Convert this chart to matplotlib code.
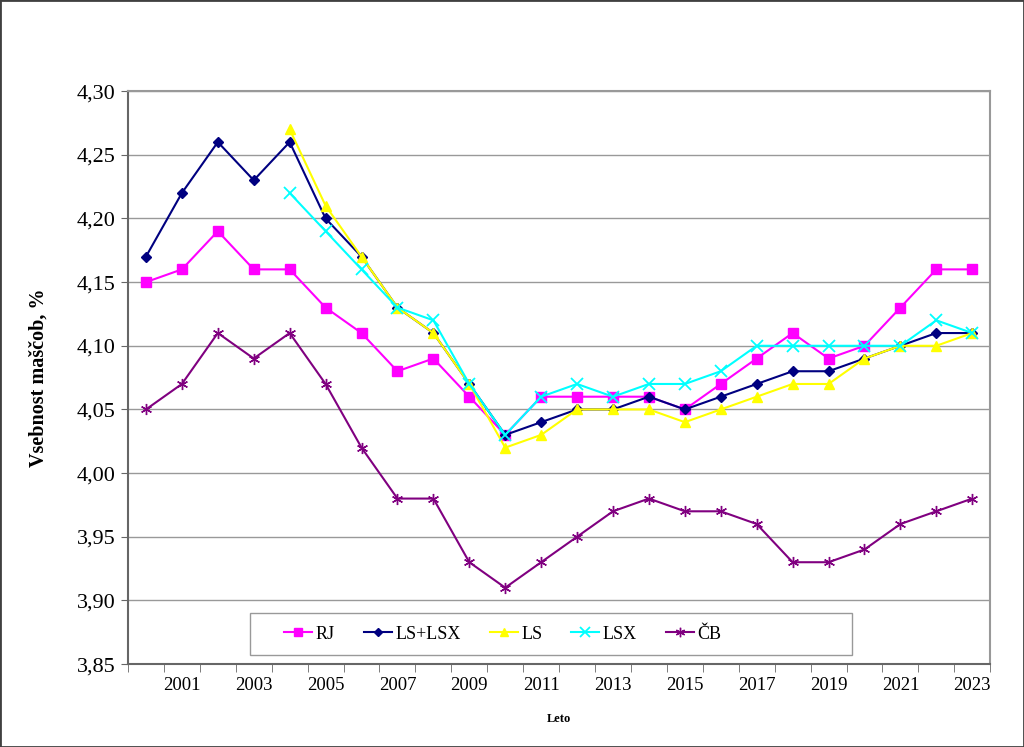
import matplotlib.pyplot as plt
import numpy as np
from matplotlib.patches import Rectangle
from matplotlib.ticker import FixedLocator, FuncFormatter

plt.rcParams['font.family'] = ['Liberation Serif', 'DejaVu Serif']

years = list(range(2000, 2024))
rj = [4.15, 4.16, 4.19, 4.16, 4.16, 4.13, 4.11, 4.08, 4.09, 4.06, 4.03, 4.06,
      4.06, 4.06, 4.06, 4.05, 4.07, 4.09, 4.11, 4.09, 4.10, 4.13, 4.16, 4.16]
ls_lsx = [4.17, 4.22, 4.26, 4.23, 4.26, 4.20, 4.17, 4.13, 4.11, 4.07, 4.03, 4.04,
          4.05, 4.05, 4.06, 4.05, 4.06, 4.07, 4.08, 4.08, 4.09, 4.10, 4.11, 4.11]
ls = [None] * 4 + [4.27, 4.21, 4.17, 4.13, 4.11, 4.07, 4.02, 4.03,
                   4.05, 4.05, 4.05, 4.04, 4.05, 4.06, 4.07, 4.07, 4.09, 4.10, 4.10, 4.11]
lsx = [None] * 4 + [4.22, 4.19, 4.16, 4.13, 4.12, 4.07, 4.03, 4.06,
                    4.07, 4.06, 4.07, 4.07, 4.08, 4.10, 4.10, 4.10, 4.10, 4.10, 4.12, 4.11]
cb = [4.05, 4.07, 4.11, 4.09, 4.11, 4.07, 4.02, 3.98, 3.98, 3.93, 3.91, 3.93,
      3.95, 3.97, 3.98, 3.97, 3.97, 3.96, 3.93, 3.93, 3.94, 3.96, 3.97, 3.98]

def arr(v):
    return np.array([np.nan if x is None else x for x in v], dtype=float)

fig = plt.figure(figsize=(10.24, 7.47), dpi=100)
fig.patches.append(Rectangle((0, 0), 1, 1, transform=fig.transFigure,
                             fill=False, edgecolor='#404040', linewidth=2))
ax = fig.add_axes([0.125, 0.111, 0.842, 0.767])

x = np.arange(len(years))
ax.plot(x, arr(rj), color='#FF00FF', marker='s', markersize=7, linewidth=1.5, label='RJ')
ax.plot(x, arr(ls_lsx), color='#000080', marker='D', markersize=5, linewidth=1.5, label='LS+LSX')
ax.plot(x, arr(ls), color='#FFFF00', marker='^', markersize=7, linewidth=1.5, label='LS')
ax.plot(x, arr(lsx), color='#00FFFF', marker='x', markersize=8, markeredgewidth=1.3,
        linewidth=1.5, label='LSX')
ax.plot(x, arr(cb), color='#800080', marker=(6, 2, 0), markersize=8, markeredgewidth=1.0,
        linewidth=1.5, label='ČB')

ax.set_xlim(-0.5, len(years) - 0.5)
ax.set_ylim(3.85, 4.30)
ax.set_yticks(np.arange(3.85, 4.301, 0.05))
ax.yaxis.set_major_formatter(FuncFormatter(lambda v, p: f"{v:.2f}".replace('.', ',')))
ax.grid(axis='y', color='#999999', linewidth=1)
ax.set_axisbelow(True)

ax.xaxis.set_major_locator(FixedLocator(x[1::2]))
ax.set_xticklabels([str(y) for y in years[1::2]])
ax.xaxis.set_minor_locator(FixedLocator(np.arange(-0.5, len(years), 1)))
ax.tick_params(axis='x', which='major', length=0, pad=9, labelsize=13.5)
ax.tick_params(axis='x', which='minor', length=6, color='#666666', direction='out')
ax.tick_params(axis='y', length=5, color='#666666', labelsize=16, pad=4)

for side in ['top', 'right']:
    ax.spines[side].set_color('#999999')
    ax.spines[side].set_linewidth(1.5)
for side in ['left', 'bottom']:
    ax.spines[side].set_color('#666666')
    ax.spines[side].set_linewidth(1.5)

ax.set_ylabel('Vsebnost maščob, %', fontsize=14.5, fontweight='bold', labelpad=20)
ax.set_xlabel('Leto', fontsize=9, fontweight='bold', labelpad=14)

# legend box drawn separately, entries placed inside it
ax.add_patch(Rectangle((0.1415, 0.0157), 0.6985, 0.073, transform=ax.transAxes,
                       facecolor='white', edgecolor='#999999', linewidth=1, zorder=5))
leg = ax.legend(loc='center left', bbox_to_anchor=(0.181, 0.0525),
                ncol=5, fontsize=13, frameon=False, borderaxespad=0, borderpad=0,
                handlelength=1.55, handletextpad=0.2, columnspacing=1.6,
                markerscale=0.85)
leg.set_zorder(6)

fig.savefig('out.png', dpi=100)
